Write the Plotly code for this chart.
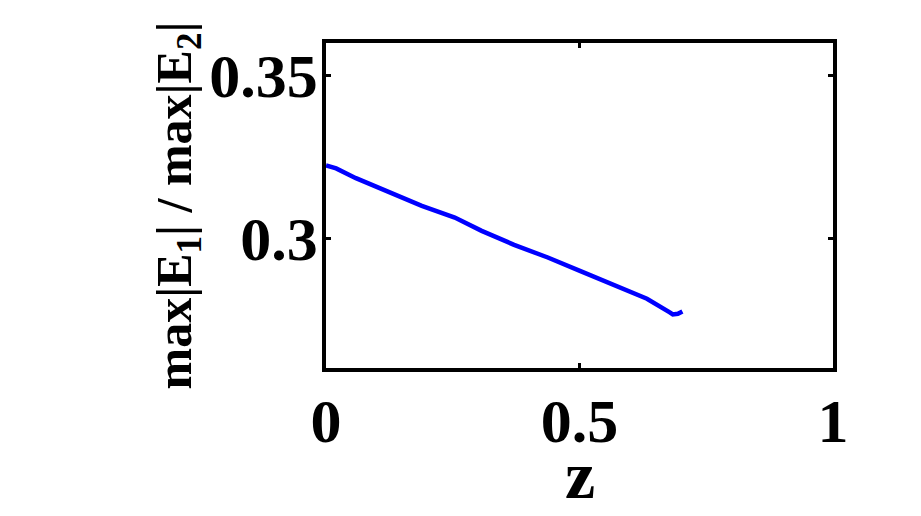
import plotly.graph_objects as go

# ratio max|E1| / max|E2| along z
z_vals = [0.0, 0.02, 0.059, 0.125, 0.189, 0.254, 0.307, 0.371, 0.4375,
          0.502, 0.566, 0.633, 0.678, 0.684, 0.694, 0.703]
ratio_vals = [0.3223, 0.3214, 0.3184, 0.3139, 0.3099, 0.3063, 0.3022, 0.2979,
              0.2940, 0.2898, 0.2858, 0.2813, 0.2771, 0.2765, 0.2767, 0.2774]

x_ticks = [0, 0.5, 1]
x_ticktext = ['0', '0.5', '1']
y_ticks = [0.30, 0.35]
y_ticktext = ['0.3', '0.35']

_FONT = 'Liberation Serif, Times New Roman, serif'

fig = go.Figure()
fig.add_trace(go.Scatter(
    x=z_vals,
    y=ratio_vals,
    mode='lines',
    line=dict(color='#0000FF', width=4.5),
    showlegend=False,
))

axis_common = dict(
    automargin=False,
    showgrid=False,
    zeroline=False,
    showline=True,
    linecolor='black',
    linewidth=3.5,
    mirror='ticks',
    ticks='inside',
    ticklen=5,
    tickwidth=3,
    tickcolor='black',
    tickfont=dict(family=_FONT, size=62, color='black', weight='bold'),
)

fig.update_layout(
    width=921,
    height=516,
    paper_bgcolor='white',
    plot_bgcolor='white',
    margin=dict(l=318, r=96, t=35, b=156),
    xaxis=dict(
        range=[0, 1],
        tickvals=x_ticks,
        ticktext=x_ticktext,
        ticklabelstandoff=-4,
        **axis_common,
    ),
    yaxis=dict(
        range=[0.26, 0.36],
        tickvals=y_ticks,
        ticktext=y_ticktext,
        ticklabelstandoff=-8,
        title=dict(text='max|E<sub>1</sub>| / max|E<sub>2</sub>|',
                   font=dict(family=_FONT, size=50, color='black', weight='bold'),
                   standoff=0),
        **axis_common,
    ),
)

# x-axis title placed by hand so it sits close under the tick labels
fig.add_annotation(
    text='z',
    x=0.5, xref='x',
    y=-0.33, yref='paper',
    yanchor='middle',
    showarrow=False,
    font=dict(family=_FONT, size=68, color='black', weight='bold'),
)

fig.write_html('out.html')
